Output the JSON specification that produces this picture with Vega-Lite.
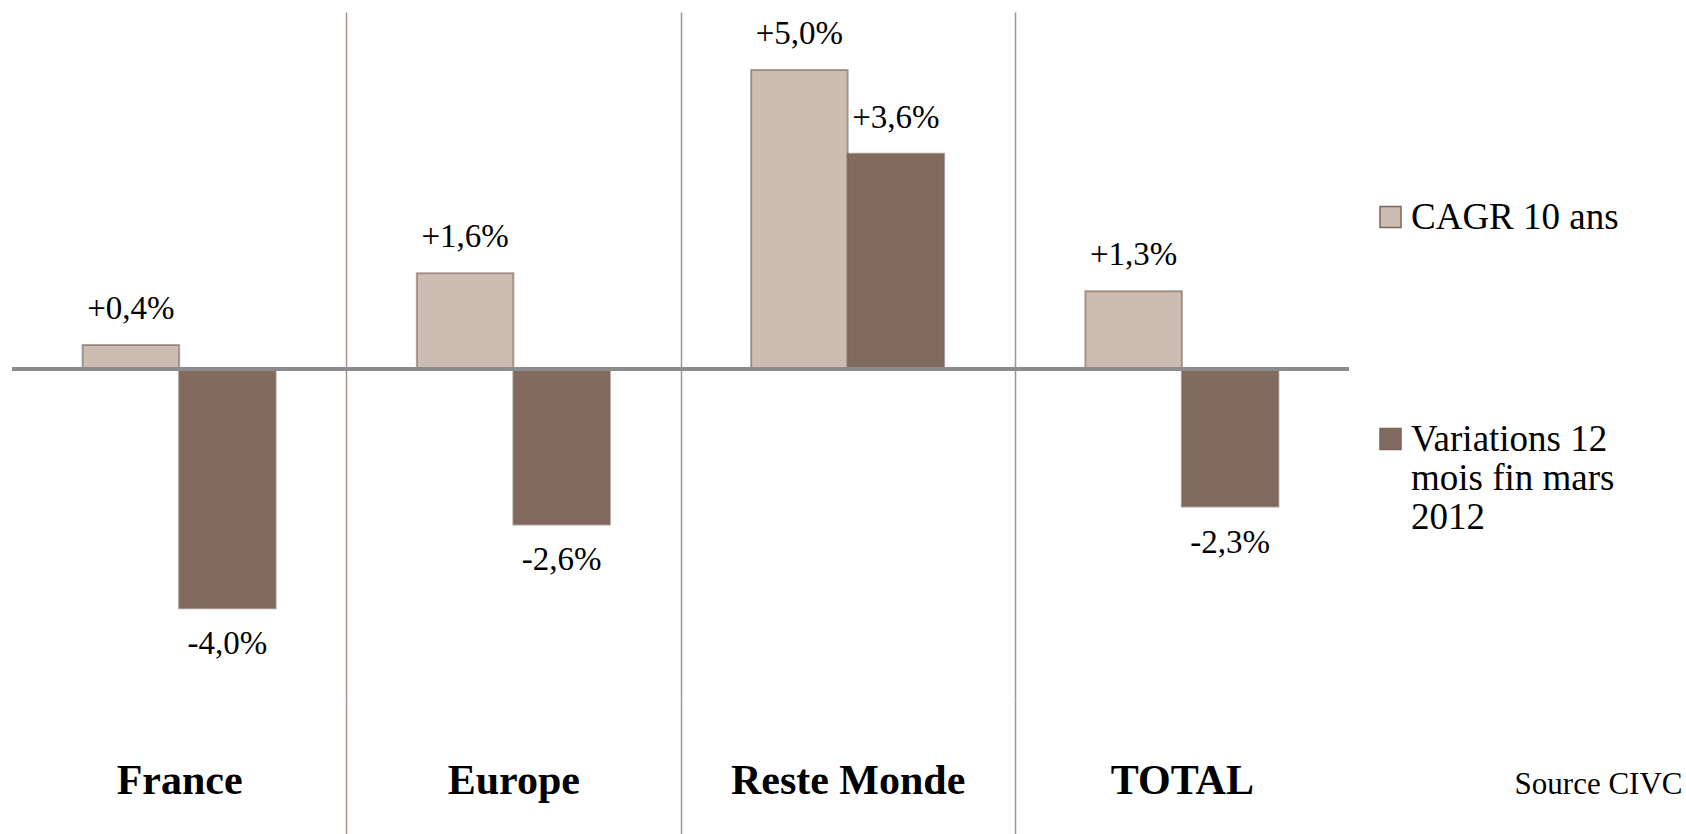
{
  "$schema": "https://vega.github.io/schema/vega-lite/v6.json",
  "width": 1337,
  "height": 688,
  "padding": {"left": 10, "top": 12, "right": 4, "bottom": 0},
  "background": "white",
  "config": {
    "view": {"stroke": null},
    "font": "Liberation Serif, Times New Roman, serif",
    "locale": {"number": {"decimal": ",", "thousands": " ", "grouping": [3], "currency": ["", " €"], "minus": "-"}}
  },
  "data": {
    "values": [
      {"region": "France", "serie": "CAGR 10 ans", "v": 0.004},
      {"region": "France", "serie": "Variations 12 mois fin mars 2012", "v": -0.040},
      {"region": "Europe", "serie": "CAGR 10 ans", "v": 0.016},
      {"region": "Europe", "serie": "Variations 12 mois fin mars 2012", "v": -0.026},
      {"region": "Reste Monde", "serie": "CAGR 10 ans", "v": 0.050},
      {"region": "Reste Monde", "serie": "Variations 12 mois fin mars 2012", "v": 0.036},
      {"region": "TOTAL", "serie": "CAGR 10 ans", "v": 0.013},
      {"region": "TOTAL", "serie": "Variations 12 mois fin mars 2012", "v": -0.023}
    ]
  },
  "layer": [
    {
      "mark": {"type": "bar", "strokeWidth": 2, "stroke": "#7a665d", "strokeOpacity": 0.6},
      "encoding": {
        "x": {
          "field": "region", "type": "nominal", "sort": null,
          "scale": {"paddingInner": 0, "paddingOuter": 0},
          "axis": {
            "title": "Source CIVC",
            "titleFont": "Liberation Serif, Times New Roman, serif",
            "titleFontSize": 31,
            "titleFontWeight": "normal",
            "titleColor": "black",
            "titleX": 1670,
            "titleY": 93,
            "titleAlign": "right",
            "titleAnchor": null,
            "titleBaseline": "alphabetic",
            "labelFont": "Liberation Serif, Times New Roman, serif",
            "labelFontSize": 42,
            "labelFontWeight": "bold",
            "labelColor": "black",
            "labelAngle": 0,
            "labelBaseline": "alphabetic",
            "labelPadding": -41,
            "labelLimit": 0,
            "tickBand": "extent",
            "tickSize": 134,
            "tickColor": "#a8948c",
            "tickWidth": 1.5,
            "tickOpacity": {"condition": {"test": "datum.value === 'France' || datum.value === 'Europe' || datum.value === 'Reste Monde'", "value": 1}, "value": 0},
            "grid": true,
            "gridColor": "#a8948c",
            "gridWidth": 1.5,
            "gridOpacity": {"condition": {"test": "datum.value === 'France' || datum.value === 'Europe' || datum.value === 'Reste Monde'", "value": 1}, "value": 0},
            "domain": false
          }
        },
        "xOffset": {"field": "serie", "type": "nominal", "sort": null, "scale": {"paddingInner": 0, "paddingOuter": 0.732}},
        "y": {"field": "v", "type": "quantitative", "scale": {"domain": [-0.05535, 0.0597], "nice": false, "zero": false}, "axis": null},
        "color": {
          "field": "serie", "type": "nominal", "sort": null,
          "scale": {"range": ["#cdbcb1", "#836a5f"]},
          "legend": {
            "title": null,
            "orient": "none",
            "legendX": 1360,
            "legendY": 198,
            "symbolType": "M-1,-2.1H1V-0.1H-1Z",
            "symbolSize": 441,
            "symbolStrokeWidth": 1.5,
            "symbolStrokeColor": "#7a665d",
            "labelFont": "Liberation Serif, Times New Roman, serif",
            "labelFontSize": 37,
            "labelColor": "black",
            "labelBaseline": "alphabetic",
            "labelLineHeight": 44,
            "labelLimit": 0,
            "labelOffset": 2,
            "rowPadding": 184,
            "labelExpr": "datum.label === 'CAGR 10 ans' ? datum.label : ['Variations 12', 'mois fin mars', '2012']"
          }
        }
      }
    },
    {
      "mark": {"type": "rule", "color": "#8c8c8c", "strokeWidth": 3},
      "encoding": {"y": {"datum": 0, "type": "quantitative"}}
    },
    {
      "transform": [{"filter": "datum.v >= 0"}],
      "mark": {"type": "text", "font": "Liberation Serif, Times New Roman, serif", "fontSize": 33, "baseline": "middle", "dy": -36, "color": "black"},
      "encoding": {
        "x": {"field": "region", "type": "nominal", "sort": null},
        "xOffset": {"field": "serie", "type": "nominal", "sort": null},
        "y": {"field": "v", "type": "quantitative"},
        "text": {"field": "v", "type": "quantitative", "format": "+.1%"}
      }
    },
    {
      "transform": [{"filter": "datum.v < 0"}],
      "mark": {"type": "text", "font": "Liberation Serif, Times New Roman, serif", "fontSize": 33, "baseline": "middle", "dy": 36, "color": "black"},
      "encoding": {
        "x": {"field": "region", "type": "nominal", "sort": null},
        "xOffset": {"field": "serie", "type": "nominal", "sort": null},
        "y": {"field": "v", "type": "quantitative"},
        "text": {"field": "v", "type": "quantitative", "format": "+.1%"}
      }
    }
  ]
}
